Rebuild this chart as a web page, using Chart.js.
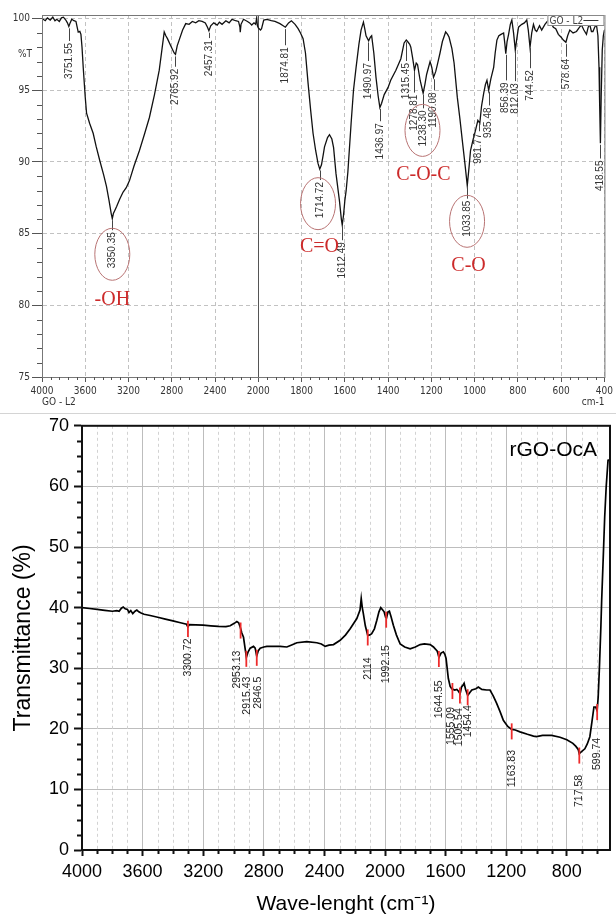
<!DOCTYPE html>
<html>
<head>
<meta charset="utf-8">
<script src="https://cdn.jsdelivr.net/npm/chart.js@4.4.1/dist/chart.umd.min.js"></script>
<style>
  body { margin: 0; background: #fff; width: 616px; height: 919px; overflow: hidden; position: relative; }
  #goChart { position: absolute; left: 0; top: 0; }
  #rgoChart { position: absolute; left: 0; top: 410px; }
  .sep { position: absolute; left: 0; top: 413px; width: 616px; height: 1px; background: #d4d4d4; }
</style>
</head>
<body>
<canvas id="goChart" width="616" height="410"></canvas>
<div class="sep"></div>
<canvas id="rgoChart" width="616" height="509"></canvas>
<script>
// ---- GO-L2 spectrum (wavenumber, %T) ----
const goSpectrum = [
  [4000,100.0],[3970,99.85],[3950,100.05],[3924,99.9],[3900,100.1],[3880,99.85],[3863,99.95],[3840,99.8],
  [3820,100.05],[3802,100.1],[3780,99.9],[3765,99.7],[3752,99.45],[3740,99.7],[3725,99.95],[3705,99.85],
  [3686,99.8],[3672,99.3],[3665,99.05],[3650,99.1],[3640,98.9],[3630,98.0],[3619,96.6],[3600,94.5],
  [3588,93.4],[3560,92.7],[3527,92.0],[3500,91.1],[3466,90.1],[3430,89.1],[3404,88.3],[3380,87.3],
  [3360,86.4],[3350,86.05],[3340,86.4],[3328,86.6],[3310,86.9],[3282,87.4],[3250,87.9],[3221,88.2],
  [3191,88.7],[3150,89.7],[3099,90.8],[3050,92.0],[3007,93.1],[2960,94.7],[2916,96.4],[2890,97.9],
  [2870,99.07],[2855,98.8],[2840,98.6],[2810,98.1],[2778,97.6],[2766,97.5],[2750,98.1],[2732,98.5],
  [2700,99.2],[2671,99.65],[2640,99.6],[2610,99.8],[2579,99.7],[2550,99.85],[2519,99.8],[2490,99.7],
  [2470,99.4],[2457,99.15],[2440,99.5],[2412,99.7],[2380,99.55],[2360,99.75],[2335,99.6],[2300,99.85],
  [2270,99.7],[2243,99.95],[2210,99.85],[2183,99.8],[2170,99.4],[2167,99.05],[2160,99.6],[2137,99.95],
  [2100,99.8],[2080,99.7],[2061,99.55],[2040,99.7],[2025,99.6],[2015,100.05],[2008,99.5],[2000,99.35],
  [1990,99.2],[1985,99.3],[1975,99.9],[1960,99.95],[1940,99.85],[1923,99.8],[1900,99.65],[1885,99.5],
  [1875,99.4],[1860,99.7],[1847,99.85],[1830,99.6],[1816,99.3],[1805,99.0],[1793,98.6],[1782,97.6],
  [1770,95.5],[1758,93.6],[1747,92.0],[1735,90.8],[1724,89.9],[1716,89.5],[1708,89.8],[1700,90.5],
  [1694,91.05],[1680,91.7],[1671,91.9],[1660,91.6],[1652,91.0],[1641,89.2],[1625,87.3],[1616,86.0],
  [1612,85.6],[1606,86.3],[1600,87.3],[1594,88.0],[1586,89.3],[1571,92.7],[1560,95.0],[1548,96.6],
  [1535,98.2],[1525,99.2],[1514,99.75],[1508,99.3],[1502,98.8],[1490,98.45],[1482,98.7],[1476,98.8],
  [1466,97.6],[1456,95.9],[1446,94.6],[1438,93.8],[1430,94.1],[1418,94.7],[1400,95.2],[1388,95.7],
  [1364,96.4],[1341,97.2],[1326,98.3],[1316,98.5],[1310,98.4],[1300,98.2],[1295,98.0],[1287,97.3],
  [1278,96.4],[1270,96.9],[1264,96.8],[1252,95.7],[1238,94.8],[1230,95.4],[1222,96.1],[1206,97.0],
  [1198,96.6],[1190,95.9],[1180,96.3],[1172,96.8],[1160,97.6],[1149,98.4],[1134,99.07],[1125,98.9],
  [1118,98.7],[1105,97.9],[1095,96.9],[1080,94.5],[1068,93.0],[1057,91.5],[1045,89.9],[1034,88.35],
  [1026,89.6],[1019,90.8],[1008,91.5],[996,92.2],[985,92.9],[976,92.7],[968,93.9],[958,94.8],
  [950,95.4],[943,95.7],[935,95.0],[925,95.8],[912,96.6],[905,97.6],[897,98.5],[888,98.8],
  [878,98.9],[866,99.0],[860,98.2],[856,97.55],[850,98.4],[843,98.9],[835,99.6],[828,99.9],
  [820,99.0],[812,97.8],[805,98.6],[797,99.4],[790,99.5],[782,99.6],[770,99.7],[759,99.9],
  [752,99.2],[744,98.0],[736,99.0],[728,99.6],[720,99.2],[713,99.1],[700,99.5],[690,99.2],
  [675,99.6],[659,99.9],[648,99.7],[636,99.4],[625,99.3],[613,98.9],[600,98.7],[590,98.5],
  [578,98.35],[570,98.8],[560,99.2],[545,99.0],[529,99.1],[515,99.4],[506,99.55],[495,99.2],
  [483,98.9],[475,99.4],[468,99.6],[460,99.1],[453,99.1],[445,99.4],[437,99.6],[430,98.8],
  [425,96.6],[422,94.0],[418.5,91.3],[415,94.5],[410,97.8],[405,98.8],[400,99.2]
];
const goTicksX = [4000, 3600, 3200, 2800, 2400, 2000, 1800, 1600, 1400, 1200, 1000, 800, 600, 400];
const goTicksY = [75, 80, 85, 90, 95, 100];
const goPeakWn = [3751.55, 3350.35, 2765.92, 2457.31, 1874.81, 1714.72, 1612.49, 1490.97, 1436.97, 1315.45, 1278.81,
  1238.30, 1190.08, 1033.85, 981.77, 935.48, 856.39, 812.03, 744.52, 578.64, 418.55];
const goPeakText = ['3751.55', '3350.35', '2765.92', '2457.31', '1874.81', '1714.72', '1612.49', '1490.97', '1436.97',
  '1315.45', '1278.81', '1238.30', '1190.08', '1033.85', '981.77', '935.48', '856.39', '812.03', '744.52', '578.64', '418.55'];
const goPeakLabelAt = [98.3, 85.1, 96.5, 98.5, 98.0, 88.6, 84.4, 96.9, 92.7, 96.9, 94.7,
  93.6, 94.85, 87.3, 92.0, 93.8, 95.55, 95.5, 96.4, 97.2, 90.1];
const goGroups = ['-OH', 'C=O', 'C-O-C', 'C-O'];
const goGroupWn = [3350, 1717, 1237, 1028];
const goGroupT = [80.36, 84.09, 89.14, 82.73];
const goRingWn = [3350, 1724, 1241, 1035];
const goRingT = [83.56, 87.09, 92.2, 85.86];

// ---- rGO-OcA spectrum ----
const rgoSpectrum = [
  [4000,40.0],[3950,39.85],[3900,39.7],[3850,39.55],[3800,39.4],[3770,39.5],[3755,39.4],[3740,39.9],
  [3728,40.1],[3715,39.8],[3700,39.7],[3690,39.2],[3678,39.5],[3665,39.0],[3650,39.4],[3638,39.6],
  [3625,39.3],[3610,39.1],[3590,38.9],[3550,38.7],[3500,38.4],[3450,38.1],[3400,37.8],[3350,37.5],
  [3310,37.25],[3301,36.8],[3292,37.2],[3250,37.15],[3200,37.1],[3150,37.0],[3100,36.9],[3050,36.85],
  [3022,37.0],[2995,37.4],[2978,37.7],[2966,37.5],[2956,36.8],[2945,35.8],[2934,35.1],[2925,33.5],
  [2915,31.8],[2905,32.6],[2890,33.3],[2868,33.6],[2857,33.3],[2847,32.0],[2836,32.9],[2824,33.3],
  [2800,33.5],[2780,33.6],[2692,33.6],[2648,33.5],[2620,33.8],[2582,34.2],[2516,34.4],[2450,34.2],
  [2420,34.0],[2395,33.6],[2370,33.8],[2340,33.9],[2296,34.6],[2260,35.5],[2230,36.5],[2186,38.2],
  [2165,39.6],[2157,41.5],[2150,40.0],[2143,39.0],[2130,37.0],[2114,35.4],[2100,35.5],[2088,35.7],
  [2070,36.5],[2054,37.9],[2040,39.3],[2028,40.0],[2015,39.6],[2006,39.3],[1996,38.4],[1990,38.3],
  [1980,39.3],[1971,39.4],[1960,38.5],[1945,37.1],[1925,35.5],[1900,34.0],[1870,33.5],[1834,33.2],
  [1800,33.5],[1768,33.9],[1740,34.0],[1702,33.9],[1680,33.5],[1669,33.2],[1655,32.8],[1644,31.8],
  [1630,32.5],[1615,32.7],[1605,32.3],[1597,31.6],[1582,28.3],[1570,27.0],[1559,26.6],[1540,26.4],
  [1526,26.5],[1515,26.2],[1505,25.8],[1495,26.9],[1485,27.2],[1478,27.5],[1468,26.5],[1454,25.5],
  [1440,26.0],[1427,26.4],[1400,26.6],[1384,26.9],[1361,26.5],[1330,26.4],[1307,26.4],[1285,25.4],
  [1263,24.2],[1240,22.8],[1219,21.4],[1190,20.4],[1164,19.9],[1140,19.8],[1109,19.5],[1060,19.1],
  [1020,18.8],[1000,18.7],[960,18.9],[934,18.9],[900,18.9],[845,18.6],[800,18.2],[760,17.6],
  [740,17.1],[725,16.6],[718,15.9],[705,16.2],[681,16.7],[665,17.5],[648,18.7],[635,21.0],
  [621,23.6],[610,23.6],[600,23.0],[593,25.2],[585,30.0],[575,37.0],[570,41.2],[560,48.0],
  [550,55.0],[540,60.0],[528,64.3],[522,64.5]
];
const rgoTicksX = [4000, 3600, 3200, 2800, 2400, 2000, 1600, 1200, 800];
const rgoPeakWn = [3300.72, 2953.13, 2915.43, 2846.5, 2114, 1992.15, 1644.55, 1555.09, 1505.54, 1454.4, 1163.83, 717.58, 599.74];
const rgoPeakText = ['3300.72', '2953.13', '2915.43', '2846.5', '2114', '1992.15', '1644.55', '1555.09', '1505.54', '1454.4', '1163.83', '717.58', '599.74'];
// where each rotated label sits (wavenumber of its centre line, %T of its upper end)
const rgoLabelWn = [3300.72, 2978, 2912, 2840, 2110, 1990, 1644.55, 1562, 1510, 1450, 1163.83, 717.58, 599.74];
const rgoLabelAt = [34.9, 32.9, 28.6, 28.6, 31.8, 33.8, 28.0, 23.6, 23.4, 23.9, 16.5, 12.4, 18.5];

// x axis with the usual FTIR scale change at 2000 cm-1
class BrokenScale extends Chart.LinearScale {
  _u(v) { return v > 2000 ? 2000 + (v - 2000) / 2 : v; }
  getPixelForValue(v) {
    const lo = this._u(this.min), hi = this._u(this.max);
    return this.getPixelForDecimal((hi - this._u(v)) / (hi - lo));
  }
  getValueForPixel(p) {
    const lo = this._u(this.min), hi = this._u(this.max);
    const u = hi - this.getDecimalForPixel(p) * (hi - lo);
    return u > 2000 ? 2000 + (u - 2000) * 2 : u;
  }
}
BrokenScale.id = 'broken';
BrokenScale.defaults = Chart.LinearScale.defaults;
Chart.register(BrokenScale);

function curveAt(spec, x) {
  for (let i = 0; i < spec.length - 1; i++) {
    const a = spec[i], b = spec[i + 1];
    if (x <= a[0] && x >= b[0]) return a[1] + (x - a[0]) / (b[0] - a[0]) * (b[1] - a[1]);
  }
  return spec[spec.length - 1][1];
}

function vText(ctx, txt, x, y) {
  ctx.save();
  ctx.translate(x, y);
  ctx.rotate(-Math.PI / 2);
  ctx.textAlign = 'right';
  ctx.textBaseline = 'middle';
  ctx.fillText(txt, 0, 0);
  ctx.restore();
}

function minorTicks(ctx, chart, xs, ys, xl, yl, color, w) {
  const a = chart.chartArea, sx = chart.scales.x, sy = chart.scales.y;
  ctx.save();
  ctx.strokeStyle = color;
  ctx.lineWidth = w;
  ctx.beginPath();
  xs.forEach(v => { const px = Math.round(sx.getPixelForValue(v)) + 0.5; ctx.moveTo(px, a.bottom); ctx.lineTo(px, a.bottom + xl); });
  ys.forEach(v => { const py = Math.round(sy.getPixelForValue(v)) + 0.5; ctx.moveTo(a.left, py); ctx.lineTo(a.left - yl, py); });
  ctx.stroke();
  ctx.restore();
}

const sans = "'Liberation Sans', Arial, sans-serif";
const narrow = "'Liberation Sans Narrow', 'DejaVu Sans Condensed', 'Liberation Sans', sans-serif";

// ---------------- GO-L2 chart ----------------
const goMinorX = [];
for (let v = 3920; v > 2000; v -= 80) if (v % 400) goMinorX.push(v);
for (let v = 1960; v > 400; v -= 40) if (v % 200) goMinorX.push(v);
const goMinorY = [];
for (let v = 76; v < 100; v++) if (v % 5) goMinorY.push(v);

const goDecor = {
  id: 'goDecor',
  afterDatasetsDraw(chart) {
    const ctx = chart.ctx, a = chart.chartArea, sx = chart.scales.x, sy = chart.scales.y;
    ctx.save();
    // frame
    ctx.strokeStyle = '#777';
    ctx.lineWidth = 1;
    ctx.strokeRect(a.left + 0.5, a.top + 0.5, a.right - a.left, a.bottom - a.top);
    minorTicks(ctx, chart, goMinorX, goMinorY, 3, 5, '#555', 1);
    // peak labels
    ctx.fillStyle = '#333';
    ctx.strokeStyle = '#444';
    ctx.font = '10px ' + sans;
    goPeakWn.forEach((wn, i) => {
      const px = sx.getPixelForValue(wn);
      const yc = sy.getPixelForValue(curveAt(goSpectrum, wn));
      const yt = sy.getPixelForValue(goPeakLabelAt[i]);
      ctx.beginPath();
      ctx.moveTo(Math.round(px) + 0.5, yc + 2);
      ctx.lineTo(Math.round(px) + 0.5, yt - 2);
      ctx.stroke();
      vText(ctx, goPeakText[i], px, yt);
    });
    // rings and group names
    ctx.strokeStyle = '#b87373';
    goRingWn.forEach((wn, i) => {
      ctx.beginPath();
      ctx.ellipse(sx.getPixelForValue(wn), sy.getPixelForValue(goRingT[i]), 17.5, 26, 0, 0, Math.PI * 2);
      ctx.stroke();
    });
    ctx.fillStyle = '#cc2a2a';
    ctx.font = "20px 'Liberation Serif', 'Times New Roman', serif";
    ctx.textAlign = 'center';
    ctx.textBaseline = 'middle';
    goGroups.forEach((g, i) => ctx.fillText(g, sx.getPixelForValue(goGroupWn[i]), sy.getPixelForValue(goGroupT[i])));
    // legend box
    ctx.fillStyle = '#fff';
    ctx.fillRect(a.right - 57, a.top, 57, 11);
    ctx.strokeStyle = '#888';
    ctx.strokeRect(a.right - 56.5, a.top + 0.5, 56, 10);
    ctx.fillStyle = '#444';
    ctx.font = '10px ' + narrow;
    ctx.textAlign = 'left';
    ctx.fillText('GO - L2', a.right - 55, a.top + 6);
    ctx.strokeStyle = '#333';
    ctx.beginPath();
    ctx.moveTo(a.right - 21, a.top + 5.5);
    ctx.lineTo(a.right - 6, a.top + 5.5);
    ctx.stroke();
    // axis captions
    ctx.fillStyle = '#333';
    ctx.textBaseline = 'middle';
    ctx.fillText('GO - L2', a.left, 402);
    ctx.textAlign = 'right';
    ctx.fillText('cm-1', a.right, 402);
    ctx.textAlign = 'center';
    ctx.fillText('%T', 25, sy.getPixelForValue(97.5));
    ctx.restore();
  }
};

new Chart(document.getElementById('goChart'), {
  type: 'line',
  data: {
    datasets: [{
      data: goSpectrum.map(p => ({ x: p[0], y: p[1] })),
      borderColor: '#111',
      borderWidth: 1.3,
      pointRadius: 0,
      tension: 0,
      fill: false
    }]
  },
  options: {
    responsive: false,
    animation: false,
    layout: { padding: { top: 15, right: 8, left: 0, bottom: 0 } },
    plugins: { legend: { display: false }, tooltip: { enabled: false } },
    scales: {
      x: {
        type: 'broken',
        min: 400,
        max: 4000,
        afterBuildTicks: s => { s.ticks = goTicksX.map(v => ({ value: v })); },
        afterFit: s => { s.height = 33; },
        ticks: { callback: v => String(v), autoSkip: false, maxRotation: 0, padding: 3, color: '#333', font: { size: 10, family: narrow } },
        grid: {
          color: c => (c.tick && c.tick.value === 2000 ? '#555' : '#c2c2c2'),
          tickColor: '#555',
          tickLength: 5
        },
        border: { color: '#444', width: 1, dash: c => (c.tick && c.tick.value === 2000 ? [] : [4, 3]) }
      },
      y: {
        min: 75,
        max: 100.25,
        afterBuildTicks: s => { s.ticks = goTicksY.map(v => ({ value: v })); },
        afterFit: s => { s.width = 42; },
        ticks: { callback: v => String(v), padding: 2, color: '#333', font: { size: 10, family: narrow } },
        grid: { color: '#c2c2c2', tickColor: '#555', tickLength: 10 },
        border: { color: '#444', width: 1, dash: [4, 3] }
      }
    }
  },
  plugins: [goDecor]
});

// ---------------- rGO-OcA chart ----------------
const rgoMinorX = [];
for (let v = 3900; v >= 600; v -= 100) if (v % 400) rgoMinorX.push(v);
const rgoMinorY = [];
for (let v = 2.5; v < 70; v += 2.5) if (v % 10) rgoMinorY.push(v);

const rgoDecor = {
  id: 'rgoDecor',
  beforeDatasetsDraw(chart) {
    const ctx = chart.ctx, a = chart.chartArea, sx = chart.scales.x;
    ctx.save();
    ctx.strokeStyle = '#d2d2d2';
    ctx.lineWidth = 1;
    ctx.setLineDash([3, 3]);
    ctx.beginPath();
    rgoMinorX.forEach(v => { const px = Math.round(sx.getPixelForValue(v)) + 0.5; ctx.moveTo(px, a.top); ctx.lineTo(px, a.bottom); });
    ctx.stroke();
    ctx.restore();
  },
  afterDatasetsDraw(chart) {
    const ctx = chart.ctx, a = chart.chartArea, sx = chart.scales.x, sy = chart.scales.y;
    ctx.save();
    // peak markers and labels
    ctx.strokeStyle = '#ee2b2b';
    ctx.lineWidth = 1.8;
    ctx.fillStyle = '#222';
    ctx.font = '10.5px ' + sans;
    rgoPeakWn.forEach((wn, i) => {
      const px = sx.getPixelForValue(wn);
      const t = curveAt(rgoSpectrum, wn);
      ctx.beginPath();
      ctx.moveTo(px, sy.getPixelForValue(t + 1.0));
      ctx.lineTo(px, sy.getPixelForValue(t - 1.65));
      ctx.stroke();
      vText(ctx, rgoPeakText[i], sx.getPixelForValue(rgoLabelWn[i]), sy.getPixelForValue(rgoLabelAt[i]));
    });
    // frame
    ctx.strokeStyle = '#111';
    ctx.lineWidth = 2;
    ctx.strokeRect(a.left, a.top, a.right - a.left, a.bottom - a.top);
    minorTicks(ctx, chart, rgoMinorX, rgoMinorY, 4, 5, '#111', 2);
    ctx.fillStyle = '#000';
    ctx.font = '21px ' + sans;
    ctx.textAlign = 'right';
    ctx.textBaseline = 'middle';
    ctx.fillText('rGO-OcA', a.right - 13, a.top + 24);
    ctx.restore();
  }
};

new Chart(document.getElementById('rgoChart'), {
  type: 'line',
  data: {
    datasets: [{
      data: rgoSpectrum.map(p => ({ x: p[0], y: p[1] })),
      borderColor: '#000',
      borderWidth: 1.7,
      pointRadius: 0,
      tension: 0,
      fill: false
    }]
  },
  options: {
    responsive: false,
    animation: false,
    layout: { padding: { top: 15, right: 6, left: 0, bottom: 0 } },
    plugins: { legend: { display: false }, tooltip: { enabled: false } },
    scales: {
      x: {
        type: 'linear',
        reverse: true,
        min: 515,
        max: 4000,
        afterBuildTicks: s => { s.ticks = rgoTicksX.map(v => ({ value: v })); },
        afterFit: s => { s.height = 69; },
        ticks: { callback: v => String(v), autoSkip: false, maxRotation: 0, padding: 5, color: '#000', font: { size: 18, family: sans } },
        grid: { color: '#bdbdbd', tickColor: '#111', tickLength: 6, tickWidth: 2 },
        border: { color: '#111', width: 2 },
        title: { display: true, text: 'Wave-lenght (cm⁻¹)', color: '#000', font: { size: 21, family: sans }, padding: { top: 0, bottom: 2 } }
      },
      y: {
        min: 0,
        max: 70,
        ticks: { stepSize: 10, padding: 5, color: '#000', font: { size: 18, family: sans } },
        afterFit: s => { s.width = 82; },
        grid: { color: '#bdbdbd', tickColor: '#111', tickLength: 8, tickWidth: 2 },
        border: { color: '#111', width: 2 },
        title: { display: true, text: 'Transmittance (%)', color: '#000', font: { size: 23, family: sans }, padding: { top: 10, bottom: 0 } }
      }
    }
  },
  plugins: [rgoDecor]
});
</script>
</body>
</html>
